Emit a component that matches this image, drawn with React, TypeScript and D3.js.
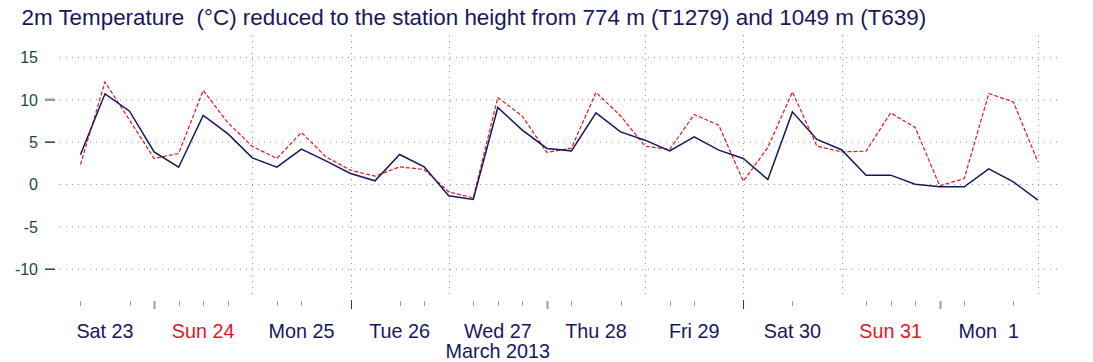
import React from "react";
import * as d3 from "d3";

// 6-hourly values from Sat 23 06 UTC to Tue 2 00 UTC
const t1279 = [3.5, 10.7, 8.65, 3.85, 2.04, 8.15, 6.0, 3.14, 2.04, 4.17, 2.79, 1.3, 0.43, 3.54, 2.08, -1.34, -1.77, 9.09, 6.41, 4.25, 3.97, 8.45, 6.21, 5.23, 3.97, 5.62, 4.05, 3.07, 0.59, 8.57, 5.31, 4.1, 1.1, 1.1, 0.04, -0.28, -0.28, 1.84, 0.31, -1.85];
const t639 = [2.36, 12.1, 7.6, 3.07, 3.66, 11.1, 7.3, 4.5, 3.07, 6.14, 3.26, 1.69, 0.98, 2.08, 1.77, -0.87, -1.58, 10.27, 8.06, 3.78, 4.3, 10.86, 8.1, 4.52, 4.13, 8.26, 7.0, 0.39, 4.37, 10.93, 4.52, 3.85, 3.93, 8.45, 6.73, -0.16, 0.7, 10.74, 9.75, 2.67];

const dayLabels = ["Sat 23", "Sun 24", "Mon 25", "Tue 26", "Wed 27", "Thu 28", "Fri 29", "Sat 30", "Sun 31", "Mon  1"];
const yTicks = [-10, -5, 0, 5, 10, 15];
// days (from Sat 23) that get a vertical grid line
const gridDays = [2, 3, 4, 6, 7, 8, 10];
// midnight ticks on the bottom row: [day, dark?]
const midnightTicks: [number, boolean][] = [[1, false], [3, true], [5, false], [7, true], [9, false]];
// hours from Sat 23 00 with a small tick
const minorTickHours = [6, 18, 30, 36, 42, 54, 60, 84, 90, 102, 108, 114, 126, 138, 150, 156, 180, 198, 204, 210, 222, 234];

const title = "2m Temperature  (°C) reduced to the station height from 774 m (T1279) and 1049 m (T639)";

const width = 1093;
const height = 362;
const navy = "#17175f";
const red = "#e8141e";
const gridCol = "#7d9a8e";
const labelGreen = "#1d4a38";
const font = "'Liberation Sans', Arial, sans-serif";

const t0 = Date.UTC(2013, 2, 23);
const HOUR = 3600 * 1000;

export default function App() {
  const x = d3.scaleUtc()
    .domain([new Date(t0), new Date(t0 + 240 * HOUR)])
    .range([55.9, 1037.9]);
  const y = d3.scaleLinear().domain([-10, 15]).range([269.2, 57.4]);

  const timeAt = (i: number) => new Date(t0 + (6 + i * 6) * HOUR);
  const line = d3.line<number>()
    .x((_, i) => x(timeAt(i)))
    .y(d => y(d));

  const xMin = 60;
  const xMax = 1058;

  return (
    <svg width={width} height={height} style={{ position: "absolute", left: 0, top: 0, background: "#fff" }}>
      <text x={21.5} y={25} fontFamily={font} fontSize={22.4} fill={navy} style={{ whiteSpace: "pre" }}>{title}</text>

      {/* horizontal grid */}
      {yTicks.map(v => (
        <line key={"h" + v} x1={xMin} x2={xMax} y1={y(v)} y2={y(v)} stroke={gridCol} strokeWidth={1} strokeDasharray="1,5" />
      ))}
      {/* vertical grid */}
      {gridDays.map(d => {
        const xx = Math.round(x(new Date(t0 + d * 24 * HOUR))) + 0.5;
        return <line key={"v" + d} x1={xx} x2={xx} y1={35} y2={297} stroke={gridCol} strokeWidth={1} strokeDasharray="1,5" />;
      })}

      {/* y axis labels and marks */}
      {yTicks.map(v => (
        <text key={"yl" + v} x={38} y={y(v) + 6} textAnchor="end" fontFamily={font} fontSize={16} fill={labelGreen}>{v}</text>
      ))}
      <line x1={45} x2={55} y1={y(10)} y2={y(10)} stroke="#8ea49a" strokeWidth={2.5} />
      <line x1={45} x2={55} y1={y(5)} y2={y(5)} stroke={labelGreen} strokeWidth={1.5} />
      <line x1={45} x2={55} y1={y(-10)} y2={y(-10)} stroke={labelGreen} strokeWidth={1.5} />

      {/* bottom ticks */}
      {minorTickHours.map(h => {
        const xx = Math.round(x(new Date(t0 + h * HOUR))) + 0.5;
        return <line key={"mt" + h} x1={xx} x2={xx} y1={301} y2={306} stroke="#8ea49a" strokeWidth={1} />;
      })}
      {midnightTicks.map(([d, dark]) => {
        const xx = Math.round(x(new Date(t0 + d * 24 * HOUR))) + 0.5;
        return <line key={"md" + d} x1={xx} x2={xx} y1={dark ? 300 : 301} y2={309} stroke={dark ? labelGreen : "#8ea49a"} strokeWidth={dark ? 1 : 2} />;
      })}

      {/* day labels */}
      {dayLabels.map((lab, i) => (
        <text key={lab} x={x(new Date(t0 + (i * 24 + 12) * HOUR))} y={338} textAnchor="middle" fontFamily={font} fontSize={19.8}
          fill={lab.startsWith("Sun") ? red : navy} style={{ whiteSpace: "pre" }}>{lab}</text>
      ))}
      <text x={x(new Date(t0 + (4 * 24 + 12) * HOUR))} y={358} textAnchor="middle" fontFamily={font} fontSize={19.8} fill={navy}>March 2013</text>

      {/* series */}
      <path d={line(t639) ?? ""} fill="none" stroke={red} strokeWidth={1.2} strokeDasharray="4,2" />
      <path d={line(t1279) ?? ""} fill="none" stroke={navy} strokeWidth={1.5} />
    </svg>
  );
}
